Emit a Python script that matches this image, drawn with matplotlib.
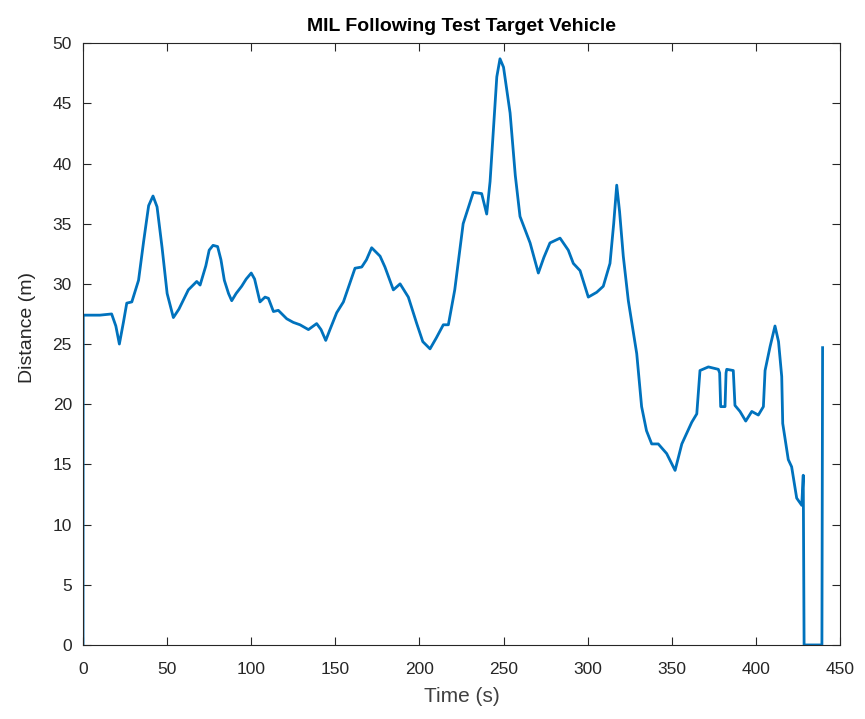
import numpy as np
import matplotlib
matplotlib.use("Agg")
import matplotlib.pyplot as plt

# Following distance log (time in s, distance in m)
time_s = [0, 0.1, 5, 10, 17, 19.5, 21.6, 24, 26, 29, 33, 36, 39, 41.6, 44, 47, 50, 53.7,
          57, 62.6, 67.6, 69.6, 73, 75, 77.3, 80, 82, 84, 86.5, 88.4, 91, 94.3, 97, 100, 102,
          105.2, 108.2, 110.2, 113.2, 116.1, 121.1, 125, 129, 134, 138.9, 141.5, 144.3, 146.8,
          150.8, 154.8, 158.5, 161.7, 165.7, 168.5, 171.6, 176.6, 179.5, 184.5, 188.5, 193.4,
          198.4, 202, 206.3, 210, 214.2, 217.2, 221, 226, 232, 237, 240, 242, 244, 246, 247.9,
          250, 253.9, 257, 259.8, 265.8, 270.7, 274, 277.6, 283.6, 288.5, 291.5, 295.5, 300.4,
          305.4, 309.3, 313.3, 315.5, 317.3, 319, 321.2, 324.2, 329.2, 332.1, 335, 338.1, 342,
          347, 352, 356, 361.9, 364.9, 366.8, 371.8, 377.7, 378.5, 379.1, 381.7, 382.3, 382.7,
          386.6, 387.6, 390.6, 394, 397.6, 401.5, 404.5, 405.5, 408.5, 411.4, 413.5, 415.4, 416,
          419.3, 421.3, 424.3, 427.3, 428.2, 428.7, 439.3, 439.7]
distance_m = [0, 27.4, 27.4, 27.4, 27.5, 26.5, 25.0, 26.8, 28.4, 28.5, 30.3, 33.5, 36.5, 37.3,
              36.4, 33.0, 29.2, 27.2, 27.9, 29.5, 30.2, 29.9, 31.5, 32.8, 33.2, 33.1, 32.0, 30.3,
              29.2, 28.6, 29.2, 29.8, 30.4, 30.9, 30.4, 28.5, 28.9, 28.8, 27.7, 27.8, 27.1, 26.8,
              26.6, 26.2, 26.7, 26.2, 25.3, 26.2, 27.6, 28.5, 30.0, 31.3, 31.4, 32.0, 33.0, 32.3,
              31.4, 29.5, 30.0, 28.9, 26.7, 25.2, 24.6, 25.5, 26.6, 26.6, 29.5, 35.0, 37.6, 37.5,
              35.8, 38.5, 42.8, 47.2, 48.7, 48.0, 44.2, 39.0, 35.6, 33.4, 30.9, 32.2, 33.4, 33.8,
              32.8, 31.7, 31.1, 28.9, 29.3, 29.8, 31.7, 35.0, 38.2, 36.0, 32.3, 28.6, 24.2, 19.8,
              17.8, 16.7, 16.7, 15.9, 14.5, 16.7, 18.5, 19.2, 22.8, 23.1, 22.9, 22.6, 19.8, 19.8,
              22.6, 22.9, 22.8, 19.9, 19.4, 18.6, 19.4, 19.1, 19.8, 22.8, 24.8, 26.5, 25.2, 22.3,
              18.4, 15.4, 14.8, 12.2, 11.6, 14.1, 0, 0, 24.7]

x_ticks = list(range(0, 451, 50))
y_ticks = list(range(0, 51, 5))

plt.rcParams['font.family'] = ['Liberation Sans', 'DejaVu Sans']

fig = plt.figure(figsize=(8.65, 7.19), dpi=100)
ax = fig.add_axes([0.096, 0.103, 0.875, 0.837])
ax.plot(time_s, distance_m, color='#0072BD', linewidth=2.0)

ax.set_xlim(0, 450)
ax.set_ylim(0, 50)
ax.set_xticks(x_ticks)
ax.set_yticks(y_ticks)
ax.tick_params(direction='in', length=6, width=0.8, top=True, right=True,
               labelsize=12.5, colors='#262626')
ax.tick_params(axis='x', pad=12)
ax.tick_params(axis='y', pad=8)
for side in ax.spines.values():
    side.set_color('#262626')
    side.set_linewidth(0.8)

ax.set_title('MIL Following Test Target Vehicle', fontsize=14, fontweight='bold',
             family=['Liberation Sans Narrow', 'Liberation Sans'], pad=9)
ax.set_xlabel('Time (s)', fontsize=15, color='#404040')
ax.set_ylabel('Distance (m)', fontsize=14, color='#262626')
ax.xaxis.set_label_coords(0.5, -0.070)
ax.yaxis.set_label_coords(-0.062, 0.527)

fig.savefig('out.png', dpi=100)
